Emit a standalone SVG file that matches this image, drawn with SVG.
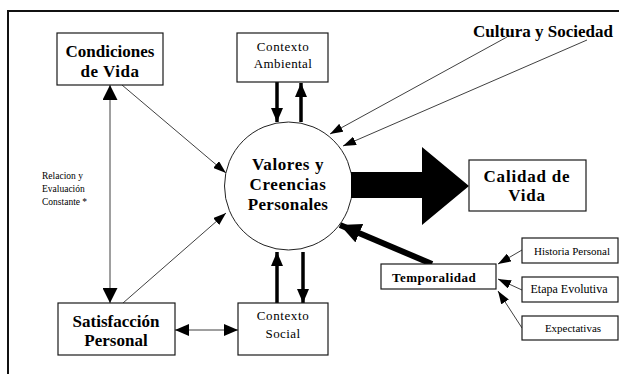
<svg xmlns="http://www.w3.org/2000/svg" width="619" height="374" viewBox="0 0 619 374">
<defs>
<style>
.box{fill:#fff;stroke:#1a1a1a;stroke-width:1.2}
.bt{font-weight:bold;fill:#000;text-anchor:middle}
.rt{fill:#000;text-anchor:middle}
.thin{stroke:#2a2a2a;stroke-width:0.9;fill:none}
.med{stroke:#000;stroke-width:3.5;fill:none}
.thick{stroke:#000;stroke-width:6;fill:none}
</style>
<marker id="ah" markerUnits="userSpaceOnUse" markerWidth="13" markerHeight="9" refX="13" refY="4.5" orient="auto-start-reverse"><path d="M0,0 L13,4.5 L0,9 z" fill="#000"/></marker>
<marker id="ahm" markerUnits="userSpaceOnUse" markerWidth="14" markerHeight="12" refX="14" refY="6" orient="auto-start-reverse"><path d="M0,0 L14,6 L0,12 z" fill="#000"/></marker>
<marker id="ahv" markerUnits="userSpaceOnUse" markerWidth="15" markerHeight="15" refX="15" refY="7.5" orient="auto-start-reverse"><path d="M0,0 L15,7.5 L0,15 z" fill="#000"/></marker>
<marker id="ahb" markerUnits="userSpaceOnUse" markerWidth="21" markerHeight="20" refX="21" refY="10" orient="auto"><path d="M0,0 L21,10 L0,20 z" fill="#000"/></marker>
</defs>
<rect width="619" height="374" fill="#fff"/>
<path d="M8,374 L8,11 L619,11" fill="none" stroke="#111" stroke-width="2"/>

<g id="connectors">
<line class="thin" x1="110" y1="85" x2="110" y2="303" marker-start="url(#ahv)" marker-end="url(#ahv)"/>
<line class="thin" x1="122" y1="85" x2="226" y2="173" marker-end="url(#ah)"/>
<line class="thin" x1="123" y1="303" x2="226" y2="213" marker-end="url(#ah)"/>
<line class="thin" x1="175" y1="330" x2="238" y2="330" marker-start="url(#ahm)" marker-end="url(#ahm)"/>
<line class="med" x1="277" y1="82" x2="277" y2="122" marker-end="url(#ahm)"/>
<line class="med" x1="301" y1="122" x2="301" y2="83" marker-end="url(#ahm)"/>
<line class="med" x1="277" y1="303" x2="277" y2="252" marker-end="url(#ahm)"/>
<line class="med" x1="303" y1="252" x2="303" y2="303" marker-end="url(#ahm)"/>
<line class="thin" x1="507" y1="37" x2="330" y2="134" marker-end="url(#ah)"/>
<line class="thin" x1="587" y1="40" x2="343" y2="146" marker-end="url(#ah)"/>
<line class="thick" x1="432" y1="264" x2="340" y2="225" marker-end="url(#ahb)"/>
<line class="thin" x1="522" y1="250" x2="498" y2="264" marker-end="url(#ah)"/>
<line class="thin" x1="522" y1="290" x2="498" y2="279" marker-end="url(#ah)"/>
<line class="thin" x1="522" y1="328" x2="498" y2="291" marker-end="url(#ah)"/>
</g>

<g font-family="'Liberation Serif', 'Times New Roman', 'DejaVu Serif', serif">
<g id="valores">
<circle cx="288.5" cy="186" r="64" fill="#fff" stroke="#222" stroke-width="1"/>
<text class="bt" x="288" y="170" font-size="17" letter-spacing="0.6">Valores y</text>
<text class="bt" x="288" y="190" font-size="17" letter-spacing="0.6">Creencias</text>
<text class="bt" x="288" y="210" font-size="17" letter-spacing="0.3">Personales</text>
</g>

<g id="flecha-calidad">
<polygon points="351,172 422,172 422,147 469,186 422,225 422,198 351,198" fill="#000"/>
</g>

<g id="condiciones">
<rect class="box" x="57" y="33" width="106" height="52"/>
<text class="bt" x="110" y="57" font-size="17">Condiciones</text>
<text class="bt" x="110" y="77" font-size="17" letter-spacing="0.5">de Vida</text>
</g>

<g id="contexto-ambiental">
<rect class="box" x="237" y="33" width="91" height="49"/>
<text class="rt" x="283" y="51" font-size="13" letter-spacing="0.6">Contexto</text>
<text class="rt" x="283" y="68" font-size="13" letter-spacing="0.4">Ambiental</text>
</g>

<g id="cultura">
<text class="bt" x="543" y="37" font-size="17">Cultura y Sociedad</text>
</g>

<g id="relacion">
<text class="rt" x="42" y="179" font-size="9.5" style="text-anchor:start">Relacion y</text>
<text class="rt" x="42" y="192" font-size="9.5" style="text-anchor:start">Evaluación</text>
<text class="rt" x="42" y="205" font-size="9.5" style="text-anchor:start">Constante *</text>
</g>

<g id="calidad">
<rect class="box" x="469" y="160" width="117" height="51"/>
<text class="bt" x="527" y="182" font-size="17" letter-spacing="0.8">Calidad de</text>
<text class="bt" x="527" y="201" font-size="17" letter-spacing="0.8">Vida</text>
</g>

<g id="satisfaccion">
<rect class="box" x="58" y="303" width="117" height="52"/>
<text class="bt" x="116" y="327" font-size="17">Satisfacción</text>
<text class="bt" x="116" y="346" font-size="17">Personal</text>
</g>

<g id="contexto-social">
<rect class="box" x="238" y="303" width="90" height="52"/>
<text class="rt" x="283" y="320" font-size="13" letter-spacing="0.6">Contexto</text>
<text class="rt" x="283" y="338" font-size="13" letter-spacing="0.4">Social</text>
</g>

<g id="temporalidad">
<rect class="box" x="381" y="264" width="115" height="25"/>
<text class="bt" x="392" y="282" font-size="13" letter-spacing="0.5" style="text-anchor:start">Temporalidad</text>
</g>

<g id="historia">
<rect class="box" x="522" y="238" width="96" height="25"/>
<text class="rt" x="572" y="255" font-size="11">Historia Personal</text>
</g>

<g id="etapa">
<rect class="box" x="522" y="277" width="96" height="25"/>
<text class="rt" x="569" y="293" font-size="12">Etapa Evolutiva</text>
</g>

<g id="expectativas">
<rect class="box" x="522" y="316" width="96" height="24"/>
<text class="rt" x="573" y="332" font-size="11">Expectativas</text>
</g>
</g>
</svg>
